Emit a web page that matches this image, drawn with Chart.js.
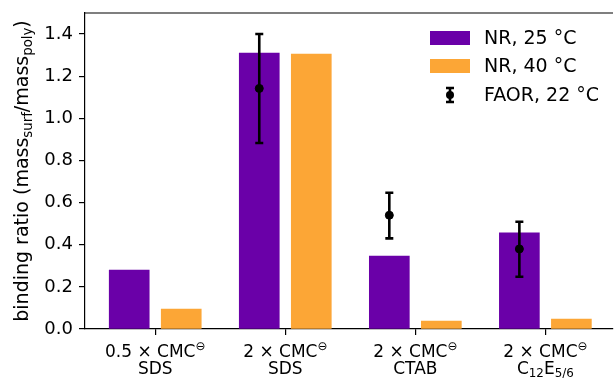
<!DOCTYPE html>
<html>
<head>
<meta charset="utf-8">
<script src="https://cdn.jsdelivr.net/npm/chart.js@4"></script>
<style>
  html, body { margin: 0; padding: 0; background: #fff; }
  #wrap { width: 614px; height: 378px; }
</style>
</head>
<body>
<div id="wrap"><canvas id="bar-chart" width="614" height="378"></canvas></div>
<script>
// categories (markup: ^{..} superscript, _{..} subscript)
const catTop = ['0.5 × CMC^{⊖}', '2 × CMC^{⊖}', '2 × CMC^{⊖}', '2 × CMC^{⊖}'];
const catBottom = ['SDS', 'SDS', 'CTAB', 'C_{12}E_{5/6}'];

// series
const nr25 = [0.28, 1.31, 0.346, 0.456];
const nr40 = [0.095, 1.305, 0.038, 0.047];
const faor = [null, 1.142, 0.54, 0.38];
const faorLow = [null, 0.883, 0.43, 0.248];
const faorHigh = [null, 1.40, 0.647, 0.509];

const yTicks = [0, 0.2, 0.4, 0.6, 0.8, 1.0, 1.2, 1.4];
const yTitle = 'binding ratio (mass_{surf}/mass_{poly})';
const seriesLabels = ['NR, 25 °C', 'NR, 40 °C', 'FAOR, 22 °C'];

const PURPLE = '#6a00a8';
const ORANGE = '#fca636';
const FONT = '"DejaVu Sans", sans-serif';
const OFF = 0.2; // bar offset from category centre (x units)

function parseRich(str) {
    const out = [];
    const re = /([\^_])\{([^}]*)\}/g;
    let last = 0, m;
    while ((m = re.exec(str)) !== null) {
        if (m.index > last) out.push({ t: str.slice(last, m.index), mode: 'n' });
        out.push({ t: m[2], mode: m[1] === '^' ? 'sup' : 'sub' });
        last = re.lastIndex;
    }
    if (last < str.length) out.push({ t: str.slice(last), mode: 'n' });
    return out;
}

function richWidth(ctx, segs, size) {
    let w = 0;
    segs.forEach(s => {
        ctx.font = (s.mode === 'n' ? size : size * 0.7) + 'px ' + FONT;
        w += ctx.measureText(s.t).width;
    });
    return w;
}

// draws rich text centred on x, with given baseline y
function drawRich(ctx, str, x, y, size) {
    const segs = parseRich(str);
    let cx = x - richWidth(ctx, segs, size) / 2;
    ctx.textBaseline = 'alphabetic';
    ctx.textAlign = 'left';
    segs.forEach(s => {
        let sz = size, dy = 0;
        if (s.mode === 'sup') { sz = size * 0.7; dy = -size * 0.42; }
        if (s.mode === 'sub') { sz = size * 0.7; dy = size * 0.2; }
        ctx.font = sz + 'px ' + FONT;
        ctx.fillText(s.t, cx, y + dy);
        cx += ctx.measureText(s.t).width;
    });
}

function noPad(s) {
    s.paddingTop = 0; s.paddingBottom = 0;
    s.paddingLeft = 0; s.paddingRight = 0;
}

const extras = {
    id: 'extras',
    afterDatasetsDraw(chart) {
        const ctx = chart.ctx;
        const xs = chart.scales.x, ys = chart.scales.y;
        const area = chart.chartArea;
        ctx.save();
        // error bars
        ctx.strokeStyle = '#000';
        ctx.lineWidth = 2.6;
        faor.forEach((v, i) => {
            if (v === null) return;
            const px = xs.getPixelForValue(i - OFF);
            const y1 = ys.getPixelForValue(faorLow[i]);
            const y2 = ys.getPixelForValue(faorHigh[i]);
            ctx.beginPath();
            ctx.moveTo(px, y1); ctx.lineTo(px, y2);
            ctx.moveTo(px - 4, y1); ctx.lineTo(px + 4, y1);
            ctx.moveTo(px - 4, y2); ctx.lineTo(px + 4, y2);
            ctx.stroke();
        });
        // top spine
        ctx.lineWidth = 1.2;
        ctx.beginPath();
        ctx.moveTo(area.left, area.top);
        ctx.lineTo(area.right, area.top);
        ctx.stroke();
        ctx.restore();
    },
    afterDraw(chart) {
        const ctx = chart.ctx;
        const xs = chart.scales.x;
        const area = chart.chartArea;
        ctx.save();
        ctx.fillStyle = '#000';
        // x tick labels
        catTop.forEach((lab, i) => {
            const px = xs.getPixelForValue(i);
            drawRich(ctx, lab, px, 357, 17);
            drawRich(ctx, catBottom[i], px, 374, 17);
        });
        // y title
        ctx.save();
        ctx.translate(28, (area.top + area.bottom) / 2);
        ctx.rotate(-Math.PI / 2);
        drawRich(ctx, yTitle, 0, 0, 19);
        ctx.restore();
        // legend
        const lx = 430, tx = 484, rows = [38, 66, 95];
        const sets = chart.data.datasets;
        ctx.fillStyle = sets[0].backgroundColor;
        ctx.fillRect(lx, rows[0] - 7, 40, 14);
        ctx.fillStyle = sets[1].backgroundColor;
        ctx.fillRect(lx, rows[1] - 7, 40, 14);
        const ex = lx + 20, ey = rows[2];
        ctx.strokeStyle = '#000';
        ctx.lineWidth = 2.6;
        ctx.beginPath();
        ctx.moveTo(ex, ey - 7); ctx.lineTo(ex, ey + 7);
        ctx.moveTo(ex - 4, ey - 7); ctx.lineTo(ex + 4, ey - 7);
        ctx.moveTo(ex - 4, ey + 7); ctx.lineTo(ex + 4, ey + 7);
        ctx.stroke();
        ctx.fillStyle = '#000';
        ctx.beginPath();
        ctx.arc(ex, ey, 4, 0, Math.PI * 2);
        ctx.fill();
        ctx.font = '19px ' + FONT;
        ctx.textBaseline = 'middle';
        ctx.textAlign = 'left';
        rows.forEach((ry, i) => ctx.fillText(seriesLabels[i], tx, ry + 1));
        ctx.restore();
    }
};

document.addEventListener('DOMContentLoaded', function () {
    const canvas = document.getElementById('bar-chart').getContext('2d');
    new Chart(canvas, {
        type: 'bar',
        data: {
            datasets: [
                {
                    label: seriesLabels[0],
                    data: nr25.map((v, i) => ({ x: i - OFF, y: v })),
                    backgroundColor: PURPLE,
                    barThickness: 40,
                    grouped: false,
                    order: 2
                },
                {
                    label: seriesLabels[1],
                    data: nr40.map((v, i) => ({ x: i + OFF, y: v })),
                    backgroundColor: ORANGE,
                    barThickness: 40,
                    grouped: false,
                    order: 2
                },
                {
                    type: 'scatter',
                    label: seriesLabels[2],
                    data: faor.map((v, i) => ({ x: i - OFF, y: v })).filter(p => p.y !== null),
                    backgroundColor: '#000',
                    borderColor: '#000',
                    pointRadius: 4,
                    order: 0
                }
            ]
        },
        options: {
            responsive: false,
            animation: false,
            layout: { autoPadding: false, padding: { top: 13, right: 1, left: 0, bottom: 0 } },
            plugins: {
                legend: { display: false },
                tooltip: { enabled: false }
            },
            scales: {
                x: {
                    type: 'linear',
                    offset: false,
                    min: -0.54,
                    max: 3.52,
                    z: 1,
                    afterFit: s => { s.height = 49; noPad(s); },
                    afterBuildTicks: s => { s.ticks = catTop.map((c, i) => ({ value: i })); },
                    ticks: { display: false },
                    grid: { offset: false, drawOnChartArea: false, tickLength: 6, color: '#000', lineWidth: 1.2 },
                    border: { display: true, color: '#000', width: 1.2 }
                },
                y: {
                    min: 0,
                    max: 1.5,
                    z: 1,
                    afterFit: s => { s.width = 85; noPad(s); },
                    afterBuildTicks: s => { s.ticks = yTicks.map(v => ({ value: v })); },
                    ticks: {
                        padding: 6,
                        color: '#000',
                        font: { family: 'DejaVu Sans', size: 18 },
                        callback: v => v.toFixed(1)
                    },
                    grid: { drawOnChartArea: false, tickLength: 6, color: '#000', lineWidth: 1.2 },
                    border: { display: true, color: '#000', width: 1.2 }
                }
            }
        },
        plugins: [extras]
    });
});
</script>
</body>
</html>
